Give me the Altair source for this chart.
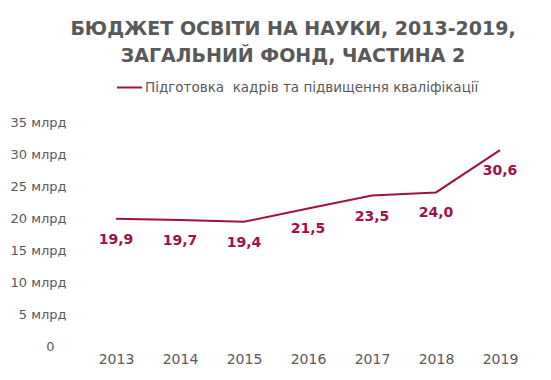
import altair as alt
import pandas as pd

years = ["2013", "2014", "2015", "2016", "2017", "2018", "2019"]
values = [19.9, 19.7, 19.4, 21.5, 23.5, 24.0, 30.6]
labels = ["19,9", "19,7", "19,4", "21,5", "23,5", "24,0", "30,6"]
series = "Підготовка\u00a0 кадрів та підвищення кваліфікації"
y_ticks = [0, 5, 10, 15, 20, 25, 30, 35]

df = pd.DataFrame({"year": years, "value": values, "label": labels, "series": series})

RED = "#A0104A"
GRAY = "#595959"
FONT = "DejaVu Sans"

x = alt.X("year:O", title=None,
          scale=alt.Scale(type="point", padding=0.5),
          axis=alt.Axis(labelAngle=0, domain=False, ticks=False, grid=False,
                        labelFont=FONT, labelFontSize=14, labelColor=GRAY,
                        labelPadding=6))
y = alt.Y("value:Q", title=None,
          scale=alt.Scale(domain=[0, 35], nice=False, zero=True),
          axis=alt.Axis(values=y_ticks, domain=False, ticks=False, grid=False,
                        labelOverlap=False, labelFlush=False, labelBound=False,
                        labelFont=FONT, labelFontSize=13, labelColor=GRAY,
                        labelPadding={"condition": {"test": "datum.value == 0", "value": 30}, "value": 18},
                        labelExpr="datum.value == 0 ? '0' : datum.value + ' млрд'"))

line = alt.Chart(df).mark_line(strokeWidth=2).encode(
    x=x, y=y,
    color=alt.Color("series:N", scale=alt.Scale(range=[RED]),
                    legend=alt.Legend(title=None, orient="none", legendX=32, legendY=-48,
                                      symbolType="stroke", symbolSize=625, symbolStrokeWidth=2,
                                      labelFont=FONT, labelFontSize=13.5, labelColor=GRAY,
                                      labelLimit=500, labelOffset=2))
)

text = alt.Chart(df).mark_text(dy=21, fontWeight="bold", fontSize=14, font=FONT, color=RED).encode(
    x=x, y=y,
    text="label:N"
)

chart = alt.layer(line, text).properties(
    width=448, height=224,
    padding={"left": 76, "top": 114, "right": 11, "bottom": 26},
    autosize=alt.AutoSizeParams(type="none"),
    title=alt.TitleParams(
        ["БЮДЖЕТ ОСВІТИ НА НАУКИ, 2013-2019,", "ЗАГАЛЬНИЙ ФОНД, ЧАСТИНА 2"],
        font=FONT, fontSize=19, fontWeight="bold", color=GRAY,
        anchor="middle", dx=-15, offset=8, lineHeight=27,
    ),
).configure_view(stroke=None).configure_title(limit=600).configure_axis(labelOverlap=False)

chart.save("out.html", embed_options={"renderer": "svg", "actions": False})
